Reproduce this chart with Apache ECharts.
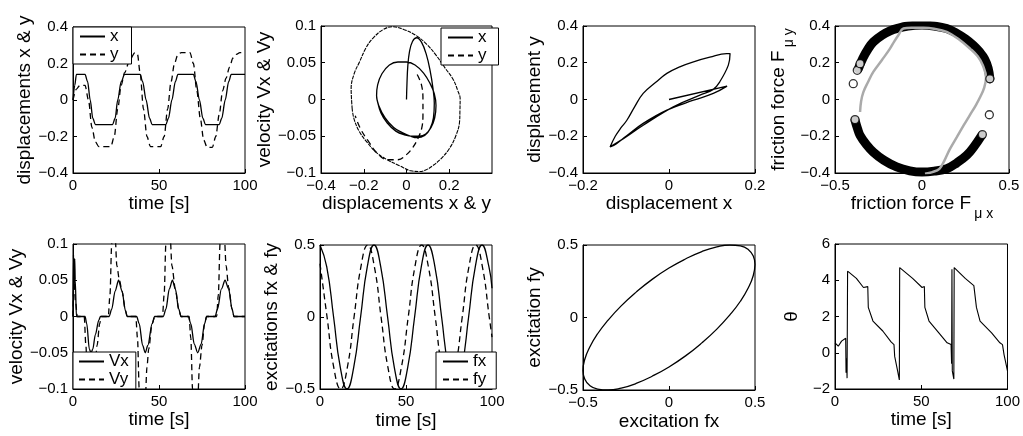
<!DOCTYPE html>
<html>
<head>
<meta charset="utf-8">
<script src="https://cdn.jsdelivr.net/npm/echarts@6/dist/echarts.min.js"></script>
<style>
  html, body { margin: 0; padding: 0; background: #fff; }
  #chart { width: 1023px; height: 436px; }
</style>
</head>
<body>
<div id="chart"></div>
<script>
// panel 1: displacements vs time [t, value]
const dispX = [[0,0],[1,0.08],[2,0.14],[7,0.14],[8.5,0.1],[10,0],[11.5,-0.1],[13,-0.135],[23,-0.135],[24.5,-0.1],[26,0],[28,0.1],[30,0.14],[39,0.14],[40.5,0.1],[42.5,0],[44.5,-0.1],[46,-0.135],[54,-0.135],[55.5,-0.1],[57.5,0],[59.5,0.1],[61,0.14],[70,0.14],[71.5,0.1],[73.5,0],[75.5,-0.1],[77,-0.135],[85,-0.135],[86.5,-0.1],[88.5,0],[90.5,0.1],[92,0.14],[100,0.14]]
const dispY = [[0,0],[2,0.06],[4,0.08],[7,0.08],[9,0],[11,-0.15],[13,-0.23],[15,-0.255],[22,-0.255],[24,-0.2],[26,-0.05],[28,0.08],[30,0.15],[33,0.22],[36,0.26],[37.5,0.25],[39,0.15],[41,-0.05],[43,-0.2],[45,-0.255],[51,-0.255],[53,-0.2],[55,-0.05],[57,0.1],[59,0.2],[61,0.25],[63,0.26],[68,0.26],[70,0.2],[72,0.05],[74,-0.1],[76,-0.22],[78,-0.26],[81,-0.26],[83,-0.2],[85,-0.08],[87,0.05],[89,0.12],[91,0.18],[93,0.23],[95,0.25],[97,0.26],[100,0.26]]

// panel 2: phase plane [displacement, velocity]
const phaseX = [[0,0],[0.002,0.02],[0.006,0.045],[0.014,0.065],[0.028,0.079],[0.048,0.084],[0.07,0.078],[0.092,0.062],[0.11,0.04],[0.124,0.015],[0.13,-0.005],[0.126,-0.025],[0.11,-0.04],[0.085,-0.049],[0.05,-0.052],[0.02,-0.05],[-0.02,-0.045],[-0.06,-0.038],[-0.1,-0.025],[-0.13,-0.008],[-0.14,0.005],[-0.135,0.02],[-0.115,0.035],[-0.08,0.047],[-0.04,0.051],[0,0.051],[0.04,0.047],[0.08,0.036],[0.11,0.022],[0.13,0.008],[0.138,-0.008],[0.132,-0.025],[0.115,-0.038],[0.09,-0.047],[0.06,-0.05],[0.03,-0.05],[-0.01,-0.048],[-0.05,-0.043],[-0.09,-0.032],[-0.12,-0.018],[-0.138,0],[-0.14,0.005]]
const phaseYStart = [[0.05,0.034],[0.07,0.02],[0.077,0],[0.077,-0.02],[0.072,-0.038],[0.055,-0.052],[0.03,-0.065],[0,-0.075],[-0.04,-0.082],[-0.09,-0.082],[-0.14,-0.072],[-0.18,-0.056],[-0.215,-0.04],[-0.24,-0.022]]
const phaseYLoop = [[-0.254,-0.013],[-0.259,0.015],[-0.245,0.035],[-0.22,0.051],[-0.19,0.07],[-0.158,0.083],[-0.11,0.095],[-0.064,0.099],[-0.01,0.095],[0.045,0.087],[0.095,0.075],[0.139,0.06],[0.18,0.043],[0.217,0.028],[0.24,0.012],[0.251,0.001],[0.25,-0.015],[0.248,-0.031],[0.23,-0.05],[0.2,-0.067],[0.16,-0.081],[0.123,-0.09],[0.09,-0.096],[0.061,-0.098],[0.02,-0.097],[-0.033,-0.09],[-0.09,-0.082],[-0.142,-0.072],[-0.185,-0.058],[-0.22,-0.044],[-0.245,-0.027],[-0.254,-0.013]]

// panel 3: displacement y vs x
const dispXY = [[0,0],[0.135,0.073],[0.103,0.033],[0.057,-0.004],[-0.005,-0.058],[-0.06,-0.13],[-0.1,-0.2],[-0.122,-0.24],[-0.137,-0.258],[-0.125,-0.2],[-0.112,-0.155],[-0.098,-0.113],[-0.08,-0.04],[-0.06,0.033],[-0.03,0.095],[-0.005,0.142],[0.025,0.178],[0.057,0.205],[0.095,0.23],[0.134,0.25],[0.142,0.25],[0.138,0.187],[0.118,0.096],[0.103,0.055],[0.072,0.024],[0.01,-0.04],[-0.06,-0.14],[-0.106,-0.213],[-0.137,-0.258]]

// panel 4: friction force
const stickTop = [[-0.366,0.167],[-0.34,0.225],[-0.31,0.275],[-0.28,0.313],[-0.23,0.35],[-0.18,0.375],[-0.146,0.386],[-0.08,0.4],[0,0.405],[0.07,0.4],[0.142,0.386],[0.2,0.36],[0.25,0.33],[0.295,0.295],[0.33,0.26],[0.36,0.22],[0.38,0.17],[0.39,0.113]]
const stickBottom = [[-0.385,-0.113],[-0.37,-0.16],[-0.356,-0.195],[-0.32,-0.245],[-0.28,-0.286],[-0.22,-0.33],[-0.146,-0.367],[-0.07,-0.388],[0,-0.395],[0.07,-0.39],[0.142,-0.377],[0.2,-0.345],[0.257,-0.304],[0.3,-0.255],[0.343,-0.195]]
const slipPath = [[0.017,-0.404],[0.06,-0.395],[0.1,-0.377],[0.13,-0.33],[0.16,-0.27],[0.2,-0.205],[0.24,-0.14],[0.275,-0.085],[0.31,-0.03],[0.335,0.015],[0.356,0.06],[0.368,0.12],[0.35,0.185],[0.32,0.235],[0.276,0.277],[0.215,0.325],[0.142,0.368],[0.07,0.385],[0.008,0.39],[-0.06,0.39],[-0.107,0.386],[-0.136,0.35],[-0.16,0.315],[-0.184,0.277],[-0.23,0.215],[-0.28,0.15],[-0.31,0.095],[-0.337,0.04],[-0.35,-0.01],[-0.356,-0.068]]
const looseCircles = [[-0.372,0.159],[-0.356,0.195],[-0.395,0.086],[0.387,-0.083],[-0.385,-0.109],[0.347,-0.191],[0.39,0.113]]

// panel 5: velocities vs time
const velX = [[0,0],[0.3,0.085],[0.6,0.04],[1,0.08],[1.3,0.05],[2,0],[7,0],[8,-0.01],[9.5,-0.045],[10.5,-0.05],[11.5,-0.045],[13,-0.025],[15,-0.005],[16,0],[21,0],[22.5,0.01],[24.5,0.035],[26.5,0.05],[28.5,0.035],[30.5,0.008],[31.5,0],[37,0],[38.5,-0.01],[40.5,-0.04],[42,-0.05],[43.5,-0.04],[46,-0.01],[47.5,0],[52.5,0],[54,0.01],[56,0.038],[57.8,0.05],[59.5,0.038],[61.5,0.01],[62.8,0],[67,0],[68.5,-0.01],[70.5,-0.038],[72.5,-0.05],[74.5,-0.038],[76.5,-0.01],[77.7,0],[82.6,0],[84,0.01],[86.3,0.038],[88.4,0.05],[90.5,0.038],[92.5,0.01],[93.6,0],[100,0]]
const velY = [[0,0],[0.5,0.05],[1.5,0.02],[2.5,0],[6.5,0],[7.5,-0.04],[8.5,-0.1],[9.5,-0.115],[11.5,-0.115],[12.5,-0.08],[14,-0.04],[15.5,-0.01],[16.5,0],[20.5,0],[21.5,0.03],[22.5,0.1],[23.5,0.115],[24.5,0.11],[25.5,0.07],[27,0.05],[28.5,0.035],[30.5,0.008],[31.5,0],[36.5,0],[37.5,-0.03],[38.5,-0.1],[39.5,-0.115],[42,-0.115],[43,-0.07],[44,-0.045],[46,-0.01],[47.5,0],[52,0],[53,0.03],[54,0.1],[55,0.115],[56.5,0.11],[57.5,0.07],[59.5,0.038],[61.5,0.01],[62.8,0],[67.5,0],[68.5,-0.03],[69.5,-0.1],[70.5,-0.115],[72.5,-0.115],[73.5,-0.07],[75,-0.04],[76.5,-0.01],[77.7,0],[83.5,0],[84.5,0.03],[85.5,0.1],[86.5,0.115],[88,0.11],[89,0.07],[90.5,0.04],[92.5,0.01],[93.6,0],[100,0]]

// panel 6: excitations vs time
const excX = [[0,0.5],[3.9,0.35],[7.9,0],[11.8,-0.35],[15.7,-0.5],[19.6,-0.35],[23.6,0],[27.5,0.35],[31.4,0.5],[35.3,0.35],[39.3,0],[43.2,-0.35],[47.1,-0.5],[51,-0.35],[55,0],[58.9,0.35],[62.8,0.5],[66.8,0.35],[70.7,0],[74.6,-0.35],[78.5,-0.5],[82.5,-0.35],[86.4,0],[90.3,0.35],[94.2,0.5],[98.2,0.35],[100,0.2]]
const excY = [[0,0.37],[4.1,0],[8,-0.35],[12,-0.5],[15.9,-0.35],[19.8,0],[23.8,0.35],[27.7,0.5],[31.6,0.35],[35.5,0],[39.5,-0.35],[43.4,-0.5],[47.3,-0.35],[51.3,0],[55.2,0.35],[59.1,0.5],[63,0.35],[67,0],[70.9,-0.35],[74.8,-0.5],[78.7,-0.35],[82.7,0],[86.6,0.35],[90.5,0.5],[94.4,0.35],[98.4,0],[100,-0.14]]

// panel 7: fy vs fx
const excXY = [[0.5,0.366],[0.49,0.29],[0.462,0.207],[0.415,0.112],[0.354,0.018],[0.278,-0.08],[0.191,-0.175],[0.098,-0.263],[0,-0.341],[-0.098,-0.405],[-0.191,-0.455],[-0.278,-0.487],[-0.354,-0.5],[-0.415,-0.494],[-0.462,-0.468],[-0.49,-0.424],[-0.5,-0.366],[-0.49,-0.29],[-0.462,-0.207],[-0.415,-0.112],[-0.354,-0.018],[-0.278,0.08],[-0.191,0.175],[-0.098,0.263],[0,0.341],[0.098,0.405],[0.191,0.455],[0.278,0.487],[0.354,0.5],[0.415,0.494],[0.462,0.468],[0.49,0.424],[0.5,0.366]]

// panel 8: theta vs time
const theta = [[0,0.55],[1.9,0.36],[3.8,0.64],[6.2,0.8],[6.4,-1.1],[6.7,-0.3],[7,-1.4],[7.3,4.5],[12.4,4.1],[16.5,3.6],[19,3.65],[19.3,2.5],[22,1.75],[27.7,1.2],[32.5,0.6],[34.2,0.45],[34.6,-0.2],[36.3,-1.0],[37.3,-1.5],[37.5,4.7],[45,4.1],[50.5,3.6],[51.8,3.65],[52.1,2.5],[54.5,1.75],[60.2,1.1],[65,0.55],[67.3,0.45],[67.6,-0.6],[67.8,4.6],[68,-1.0],[68.9,-1.45],[69.1,4.7],[75.5,4.1],[80.5,3.7],[81.6,3.65],[82,2.5],[84.1,1.75],[90.8,1.1],[95.6,0.55],[97.1,0.45],[98,-0.1],[100,-1.0]]

const FONT = 'Liberation Sans, Arial, Helvetica, sans-serif'
const grids = [
  { left: 73, top: 27, width: 172, height: 146 },
  { left: 321, top: 26, width: 171, height: 147 },
  { left: 583, top: 26, width: 172, height: 147 },
  { left: 835, top: 26, width: 174, height: 147 },
  { left: 73, top: 244, width: 172, height: 145 },
  { left: 320, top: 245, width: 172, height: 144 },
  { left: 583, top: 245, width: 172, height: 145 },
  { left: 835, top: 244, width: 174, height: 145 }
]

function fmt(v) {
  return String(+v.toFixed(3)).replace('-', '\u2212')
}

const subRich = {
  m: { fontSize: 19, fontFamily: FONT, color: '#000', verticalAlign: 'top' },
  s: { fontSize: 14, fontFamily: FONT, color: '#000', verticalAlign: 'top', padding: [13, 0, 0, 3] }
}

function axis(gridIndex, min, max, interval, name, gap, opts) {
  return Object.assign({
    type: 'value',
    gridIndex,
    min, max, interval,
    name,
    nameLocation: 'middle',
    nameGap: gap,
    nameTextStyle: { fontSize: 19, fontFamily: FONT, color: '#000', rich: subRich },
    axisLine: { show: true, onZero: false, lineStyle: { color: '#000', width: 1 } },
    axisTick: { show: true, inside: true, length: 4, lineStyle: { color: '#000' } },
    axisLabel: { fontSize: 15, fontFamily: FONT, color: '#000', margin: 5, formatter: fmt },
    splitLine: { show: false }
  }, opts || {})
}

const xAxes = [
  axis(0, 0, 100, 50, 'time [s]', 10),
  axis(1, -0.4, 0.4, 0.2, 'displacements x & y', 14, { axisLabel: { fontSize: 15, fontFamily: FONT, color: '#000', margin: 5, formatter: fmt, showMaxLabel: false } }),
  axis(2, -0.2, 0.2, 0.2, 'displacement x', 13),
  axis(3, -0.5, 0.5, 0.5, '{m|friction force F}{s|\u03bc x}', 14),
  axis(4, 0, 100, 50, 'time [s]', 21),
  axis(5, 0, 100, 50, 'time [s]', 22),
  axis(6, -0.5, 0.5, 0.5, 'excitation fx', 22),
  axis(7, 0, 100, 50, 'time [s]', 20)
]
const yAxes = [
  axis(0, -0.4, 0.4, 0.2, 'displacements x & y', 36),
  axis(1, -0.1, 0.1, 0.05, 'velocity Vx & Vy', 38),
  axis(2, -0.4, 0.4, 0.2, 'displacement y', 35),
  axis(3, -0.4, 0.4, 0.2, '{m|friction force F}{s|\u03bc y}', 32),
  axis(4, -0.1, 0.1, 0.05, 'velocity Vx & Vy', 40),
  axis(5, -0.5, 0.5, 0.5, 'excitations fx & fy', 34),
  axis(6, -0.5, 0.5, 0.5, 'excitation fy', 32),
  axis(7, -2, 6, 2, '\u03b8', 34)
]

function line(name, idx, data, opts) {
  return Object.assign({
    name,
    type: 'line',
    xAxisIndex: idx,
    yAxisIndex: idx,
    data,
    symbol: 'none',
    showSymbol: false,
    clip: true,
    lineStyle: { color: '#000', width: 1.3, type: 'solid' },
    itemStyle: { color: '#000' },
    z: 3
  }, opts || {})
}
const DASH = { color: '#000', width: 1.3, type: [6, 4] }

const series = [
  line('x', 0, dispX, { smooth: 0.3, smoothMonotone: 'x' }),
  line('y', 0, dispY, { smooth: 0.3, smoothMonotone: 'x', lineStyle: DASH }),
  line('x', 1, phaseX, { smooth: 0.4 }),
  line('y', 1, phaseYStart, { smooth: 0.4, lineStyle: DASH }),
  line('y', 1, phaseYLoop, { smooth: 0.4, lineStyle: { color: '#000', width: 1.1, type: [4, 1] } }),
  line('p3', 2, dispXY, { smooth: 0.4 }),
  line('stickTop', 3, stickTop, { smooth: 0.4, lineStyle: { color: '#000', width: 9, cap: 'round' } }),
  line('stickBottom', 3, stickBottom, { smooth: 0.4, lineStyle: { color: '#000', width: 9, cap: 'round' } }),
  line('slip', 3, slipPath, { smooth: 0.4, z: 4, lineStyle: { color: '#aaa', width: 2.5 } }),
  {
    name: 'circles', type: 'scatter', xAxisIndex: 3, yAxisIndex: 3, data: looseCircles,
    symbol: 'circle', symbolSize: 8, z: 5,
    itemStyle: { color: '#fff', borderColor: '#000', borderWidth: 1.3 }
  },
  line('Vx', 4, velX, { smooth: 0.3, smoothMonotone: 'x' }),
  line('Vy', 4, velY, { smooth: 0.3, smoothMonotone: 'x', lineStyle: DASH }),
  line('fx', 5, excX, { smooth: 0.5 }),
  line('fy', 5, excY, { smooth: 0.5, lineStyle: DASH }),
  line('p7', 6, excXY, { smooth: 0.5 }),
  line('p8', 7, theta, { lineStyle: { color: '#000', width: 1.1 } })
]

function legend(data, pos, padding) {
  return Object.assign({
    data,
    orient: 'vertical',
    selectedMode: false,
    backgroundColor: '#fff',
    borderColor: '#000',
    borderWidth: 1,
    borderRadius: 0,
    padding,
    itemGap: 1,
    itemWidth: 25,
    itemHeight: 14,
    itemStyle: { color: 'transparent', borderWidth: 0, opacity: 0 },
    textStyle: { fontSize: 17, fontFamily: FONT, color: '#000' },
    z: 10
  }, pos)
}

const chart = echarts.init(document.getElementById('chart'), null, { renderer: 'canvas' })
chart.setOption({
  animation: false,
  backgroundColor: '#fff',
  grid: grids.map(g => Object.assign({ show: true, borderColor: '#000', borderWidth: 1, backgroundColor: 'transparent' }, g)),
  xAxis: xAxes,
  yAxis: yAxes,
  legend: [
    legend(['x', 'y'], { left: 73, top: 27 }, [1, 13, 1, 6]),
    legend(['x', 'y'], { left: 441, top: 28 }, [1, 12, 1, 6]),
    legend(['Vx', 'Vy'], { left: 73, top: 352 }, [1, 7, 1, 5]),
    legend(['fx', 'fy'], { left: 436, top: 352 }, [1, 10, 1, 6])
  ],
  series
})
</script>
</body>
</html>
